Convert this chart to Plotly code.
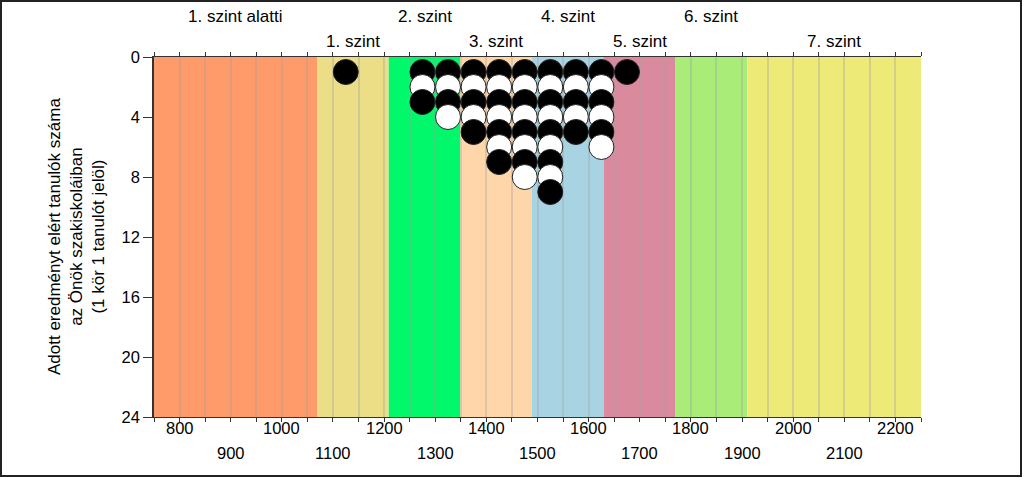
import plotly.graph_objects as go

# ---- data ----
band_edges = [750, 1069, 1209, 1349, 1489, 1630, 1770, 1910, 2250]
band_names = ["1. szint alatti", "1. szint", "2. szint", "3. szint",
              "4. szint", "5. szint", "6. szint", "7. szint"]
band_colors = ["#FF9A6A", "#EBDE87", "#00F86A", "#FFD6AA",
               "#A8D3E3", "#D98A9C", "#AAEC78", "#EDEA78"]

score_bins = [1125, 1275, 1325, 1375, 1425, 1475, 1525, 1575, 1625, 1675]
student_counts = [1, 3, 4, 5, 7, 8, 9, 5, 6, 1]

tick_values = [800, 900, 1000, 1100, 1200, 1300, 1400, 1500, 1600, 1700,
               1800, 1900, 2000, 2100, 2200]
y_ticks = [0, 4, 8, 12, 16, 20, 24]

FONT = "Arial, Liberation Sans, sans-serif"

# ---- build markers ----
xs, ys, cols = [], [], []
for x, n in zip(score_bins, student_counts):
    for r in range(1, n + 1):
        xs.append(x)
        ys.append(r)
        cols.append("black" if r % 2 == 1 else "white")

fig = go.Figure()
fig.add_trace(go.Scatter(
    x=xs, y=ys, mode="markers",
    marker=dict(size=25, color=cols, line=dict(color="#222222", width=1)),
    hoverinfo="skip", showlegend=False,
))

shapes = []
for i, c in enumerate(band_colors):
    shapes.append(dict(type="rect", xref="x", yref="paper",
                       x0=band_edges[i], x1=band_edges[i + 1], y0=0, y1=1,
                       fillcolor=c, line=dict(width=0), layer="below"))

# outer frame
W, H = 1024, 478
ml, mr, mt, mb = 154, 103, 57, 61
pw, ph = W - ml - mr, H - mt - mb
shapes.append(dict(type="rect", xref="paper", yref="paper",
                   x0=(1 - ml) / pw, x1=(1021 - ml) / pw,
                   y0=(H - mb - 476) / ph, y1=(H - mb - 1) / ph,
                   line=dict(color="#222222", width=2), fillcolor="rgba(0,0,0,0)",
                   layer="above"))

annotations = []
for i, name in enumerate(band_names):
    cx = (band_edges[i] + band_edges[i + 1]) / 2
    annotations.append(dict(x=cx, xref="x", y=1, yref="paper",
                            yshift=41 if i % 2 == 0 else 15.5,
                            text=name, showarrow=False, xanchor="center",
                            yanchor="middle",
                            font=dict(family=FONT, size=17, color="black")))
for i, v in enumerate(tick_values):
    annotations.append(dict(x=v, xref="x", y=0, yref="paper",
                            yshift=-10.5 if i % 2 == 0 else -35.5,
                            text=str(v), showarrow=False, xanchor="center",
                            yanchor="middle",
                            font=dict(family=FONT, size=16.5, color="black")))
annotations.append(dict(x=(76 - ml) / pw, xref="paper", y=0.5, yref="paper",
                        text="Adott eredményt elért tanulók száma<br>az Önök szakiskoláiban<br>(1 kör 1 tanulót jelöl)",
                        textangle=-90, showarrow=False, xanchor="center",
                        yanchor="middle",
                        font=dict(family=FONT, size=17, color="black")))

grid_vals = list(range(750, 2251, 50))

fig.update_layout(
    width=W, height=H,
    margin=dict(l=ml, r=mr, t=mt, b=mb),
    paper_bgcolor="white", plot_bgcolor="white",
    shapes=shapes, annotations=annotations,
    xaxis=dict(range=[750, 2250], tickvals=grid_vals, showticklabels=False,
               ticks="outside", ticklen=4, tickcolor="#333333",
               showline=True, linecolor="#333333", linewidth=1, mirror="ticks",
               showgrid=True, gridcolor="rgba(160,160,160,0.35)", gridwidth=1.5,
               zeroline=False),
    yaxis=dict(range=[24, 0], tickvals=y_ticks, ticks="outside", ticklen=9,
               tickcolor="#333333", showline=True, linecolor="#333333",
               linewidth=1.5, showgrid=False, zeroline=False,
               tickfont=dict(family=FONT, size=16.5, color="black")),
)

fig.write_html("out.html")
